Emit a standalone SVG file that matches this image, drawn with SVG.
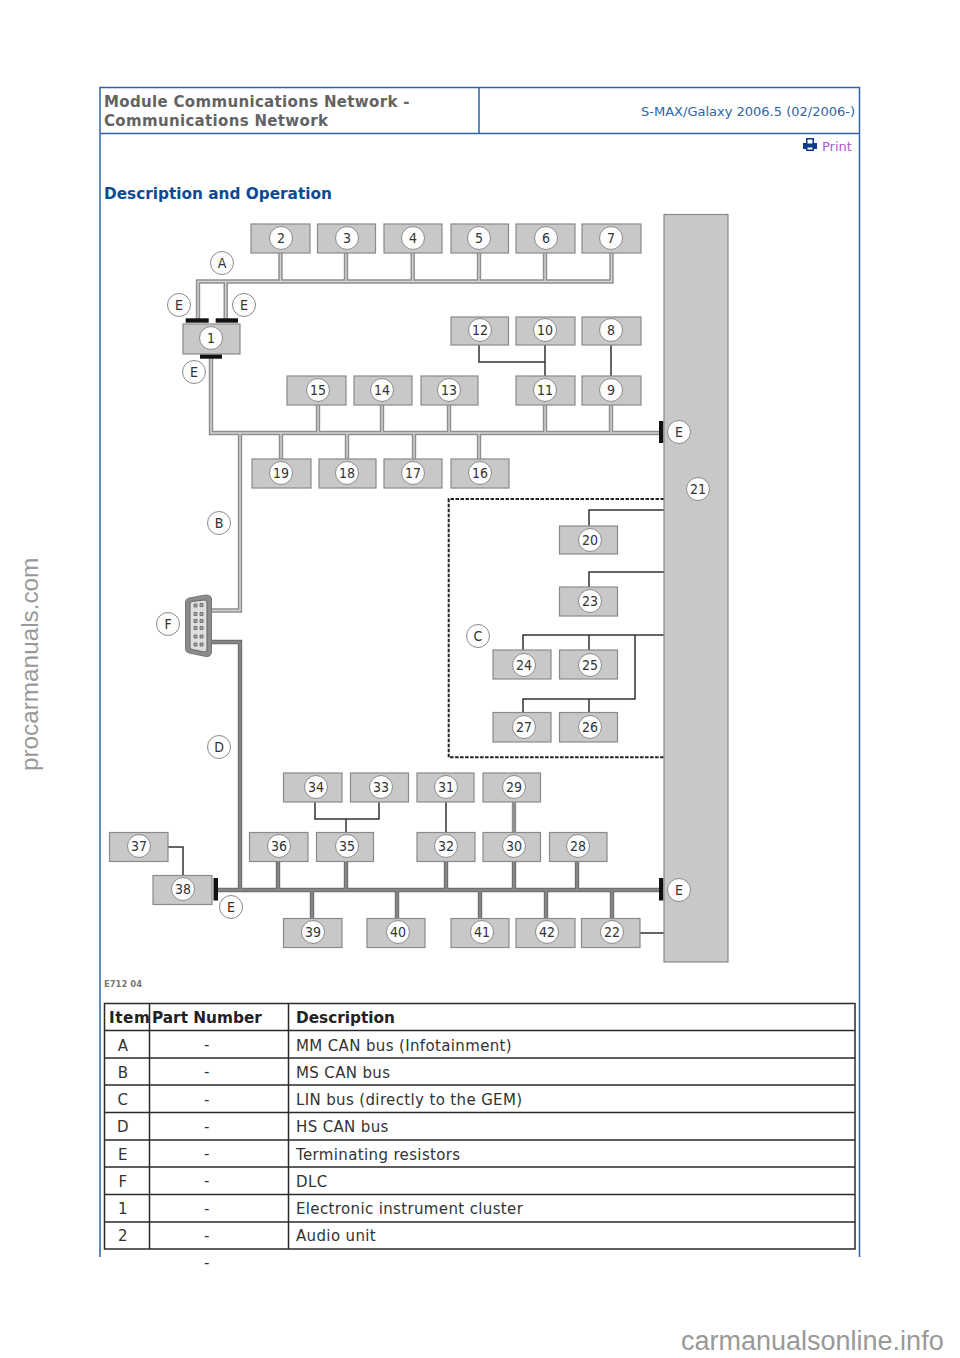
<svg xmlns="http://www.w3.org/2000/svg" width="960" height="1358" viewBox="0 0 960 1358">
<style>
text{font-family:"DejaVu Sans",Verdana,sans-serif}
.frame{fill:none;stroke:#2f65a8;stroke-width:1.5}
.box{fill:#c8c8c8;stroke:#8a8a8a;stroke-width:1.2}
.cir{fill:#fdfdfd;stroke:#8a8a8a;stroke-width:1}
.n{font-family:"DejaVu Sans Condensed","DejaVu Sans",sans-serif;font-size:14px;fill:#333;text-anchor:middle}
.wire{fill:none;stroke:#333;stroke-width:1.5}
.outer{fill:none;stroke:#8f8f8f;stroke-width:4.4}
.inner{fill:none;stroke:#d4d4d4;stroke-width:1.4}
.hs{fill:none;stroke:#707070;stroke-width:4.4}
.hsi{fill:none;stroke:#9a9a9a;stroke-width:1}
.term{fill:#111}
.title{font-size:15px;font-weight:bold;fill:#636363;letter-spacing:.33px}
.th{font-size:15.3px;font-weight:bold;fill:#222}
.td{font-size:15px;fill:#333;letter-spacing:.36px}
.c{text-anchor:middle}
.wm{font-family:"Liberation Sans",Arial,sans-serif;fill:#999}
</style>
<rect width="960" height="1358" fill="#fff"/>
<g id="page-frame">
<path class="frame" d="M100 1257V87.500H859.500V1257M100 133.500H859.500M479 87.500V133.500"/>
<text class="title" x="104" y="107">Module Communications Network -</text>
<text class="title" x="104" y="126">Communications Network</text>
<text x="855" y="116" text-anchor="end" style="font-size:13px;fill:#2f65a8">S-MAX/Galaxy 2006.5 (02/2006-)</text>
<path fill="#0d3a8a" d="M806 138h8v5h3v6h-3v2h-8v-2h-3v-6h3zm1.500 1.500v4h5v-4zm0 8v2h5v-2z"/>
<text x="822" y="151" style="font-size:13px;fill:#b455d0">Print</text>
<text x="104" y="199" style="font-size:15.3px;font-weight:bold;fill:#0b4a94">Description and Operation</text>
</g>
<g id="connectors">
<path class="outer" id="busA" d="M198 320V281.500H611.500V253M225.700 320V281.500M280.500 253V281.500M346 253V281.500M412.700 253V281.500M479 253V281.500M545 253V281.500"/>
<path class="inner" d="M198 320V281.500H611.500V253M225.700 320V281.500M280.500 253V281.500M346 253V281.500M412.700 253V281.500M479 253V281.500M545 253V281.500"/>
<path class="outer" id="busB" d="M211 356V433H660M240 433V610.500H212M318 405V433M382 405V433M449 405V433M545 405V433M611 405V433M281 433V459M347 433V459M414 433V459M479 433V459"/>
<path class="inner" d="M211 356V433H660M240 433V610.500H212M318 405V433M382 405V433M449 405V433M545 405V433M611 405V433M281 433V459M347 433V459M414 433V459M479 433V459"/>
<path class="hs" id="busD" d="M212 642H240V890M215 890H660M278 861V890M346 861V890M446 861V890M514 861V890M577 861V890M312 890V918M397 890V918M480 890V918M546 890V918M612 890V918"/>
<path class="hsi" d="M212 642H240V890M215 890H660M278 861V890M346 861V890M446 861V890M514 861V890M577 861V890M312 890V918M397 890V918M480 890V918M546 890V918M612 890V918"/>
<path class="outer" d="M514 802V832"/>
<path class="wire" d="M479 345V362H545M545 345V376M611 345V376M446 802V832M315 802V819H379V802M346 819V832M168 847H183V875M640 933H664"/>
<path class="wire" id="busC" d="M664 510H589V526M664 572H589V587M664 635H523V650M589 635V650M635 635V699H523V712M589 699V712"/>
<path fill="none" stroke="#222" stroke-width="2" stroke-dasharray="3.500 1.500" d="M664 499H448.700V757.300H664"/>
<rect class="term" x="185.700" y="318.300" width="23" height="4.400"/>
<rect class="term" x="215.700" y="318.300" width="22.300" height="4.400"/>
<rect class="term" x="200" y="354.300" width="22" height="4.400"/>
<rect class="term" x="659" y="421" width="4.400" height="22"/>
<rect class="term" x="659" y="878" width="4.400" height="22.500"/>
<rect class="term" x="213.500" y="878" width="4.500" height="22.500"/>
</g>
<g id="n21"><rect class="box" x="664" y="214.500" width="64" height="747.500"/><circle class="cir" cx="698" cy="489" r="11.500"/><text class="n" x="698" y="494">21</text></g>
<g id="n1"><rect class="box" x="183" y="324" width="57" height="30"/><circle class="cir" cx="211" cy="338" r="11.500"/><text class="n" x="211" y="343">1</text></g>
<g id="n2"><rect class="box" x="251" y="224" width="59" height="29"/><circle class="cir" cx="281" cy="238" r="11.500"/><text class="n" x="281" y="243">2</text></g>
<g id="n3"><rect class="box" x="317.500" y="224" width="58" height="29"/><circle class="cir" cx="347" cy="238" r="11.500"/><text class="n" x="347" y="243">3</text></g>
<g id="n4"><rect class="box" x="384" y="224" width="58" height="29"/><circle class="cir" cx="413" cy="238" r="11.500"/><text class="n" x="413" y="243">4</text></g>
<g id="n5"><rect class="box" x="451" y="224" width="57.500" height="29"/><circle class="cir" cx="479" cy="238" r="11.500"/><text class="n" x="479" y="243">5</text></g>
<g id="n6"><rect class="box" x="516" y="224" width="59" height="29"/><circle class="cir" cx="546" cy="238" r="11.500"/><text class="n" x="546" y="243">6</text></g>
<g id="n7"><rect class="box" x="582" y="224" width="59" height="29"/><circle class="cir" cx="611" cy="238" r="11.500"/><text class="n" x="611" y="243">7</text></g>
<g id="n12"><rect class="box" x="451" y="317" width="57.500" height="28"/><circle class="cir" cx="480" cy="330" r="11.500"/><text class="n" x="480" y="335">12</text></g>
<g id="n10"><rect class="box" x="516" y="317" width="59" height="28"/><circle class="cir" cx="545" cy="330" r="11.500"/><text class="n" x="545" y="335">10</text></g>
<g id="n8"><rect class="box" x="582" y="317" width="59" height="28"/><circle class="cir" cx="611" cy="330" r="11.500"/><text class="n" x="611" y="335">8</text></g>
<g id="n15"><rect class="box" x="287" y="376" width="59" height="29"/><circle class="cir" cx="318" cy="390" r="11.500"/><text class="n" x="318" y="395">15</text></g>
<g id="n14"><rect class="box" x="354" y="376" width="58" height="29"/><circle class="cir" cx="382" cy="390" r="11.500"/><text class="n" x="382" y="395">14</text></g>
<g id="n13"><rect class="box" x="421" y="376" width="57" height="29"/><circle class="cir" cx="449" cy="390" r="11.500"/><text class="n" x="449" y="395">13</text></g>
<g id="n11"><rect class="box" x="516" y="376" width="59" height="29"/><circle class="cir" cx="545" cy="390" r="11.500"/><text class="n" x="545" y="395">11</text></g>
<g id="n9"><rect class="box" x="582" y="376" width="59" height="29"/><circle class="cir" cx="611" cy="390" r="11.500"/><text class="n" x="611" y="395">9</text></g>
<g id="n19"><rect class="box" x="252" y="459" width="59" height="29"/><circle class="cir" cx="281" cy="473" r="11.500"/><text class="n" x="281" y="478">19</text></g>
<g id="n18"><rect class="box" x="319" y="459" width="57" height="29"/><circle class="cir" cx="347" cy="473" r="11.500"/><text class="n" x="347" y="478">18</text></g>
<g id="n17"><rect class="box" x="384" y="459" width="58" height="29"/><circle class="cir" cx="413" cy="473" r="11.500"/><text class="n" x="413" y="478">17</text></g>
<g id="n16"><rect class="box" x="451" y="459" width="58" height="29"/><circle class="cir" cx="480" cy="473" r="11.500"/><text class="n" x="480" y="478">16</text></g>
<g id="n20"><rect class="box" x="559.500" y="526" width="58" height="28"/><circle class="cir" cx="590" cy="540" r="11.500"/><text class="n" x="590" y="545">20</text></g>
<g id="n23"><rect class="box" x="559.500" y="587" width="58" height="29"/><circle class="cir" cx="590" cy="601" r="11.500"/><text class="n" x="590" y="606">23</text></g>
<g id="n24"><rect class="box" x="493" y="650" width="58" height="29"/><circle class="cir" cx="524" cy="665" r="11.500"/><text class="n" x="524" y="670">24</text></g>
<g id="n25"><rect class="box" x="559.500" y="650" width="58" height="29"/><circle class="cir" cx="590" cy="665" r="11.500"/><text class="n" x="590" y="670">25</text></g>
<g id="n27"><rect class="box" x="493" y="712.500" width="58" height="29.500"/><circle class="cir" cx="524" cy="727" r="11.500"/><text class="n" x="524" y="732">27</text></g>
<g id="n26"><rect class="box" x="559.500" y="712.500" width="58" height="29.500"/><circle class="cir" cx="590" cy="727" r="11.500"/><text class="n" x="590" y="732">26</text></g>
<g id="n34"><rect class="box" x="283.500" y="773" width="58.500" height="29"/><circle class="cir" cx="316" cy="787" r="11.500"/><text class="n" x="316" y="792">34</text></g>
<g id="n33"><rect class="box" x="350.500" y="773" width="58" height="29"/><circle class="cir" cx="381" cy="787" r="11.500"/><text class="n" x="381" y="792">33</text></g>
<g id="n31"><rect class="box" x="417" y="773" width="57" height="29"/><circle class="cir" cx="446" cy="787" r="11.500"/><text class="n" x="446" y="792">31</text></g>
<g id="n29"><rect class="box" x="483" y="773" width="57.500" height="29"/><circle class="cir" cx="514" cy="787" r="11.500"/><text class="n" x="514" y="792">29</text></g>
<g id="n36"><rect class="box" x="249.500" y="832.500" width="58.500" height="29"/><circle class="cir" cx="279" cy="846" r="11.500"/><text class="n" x="279" y="851">36</text></g>
<g id="n35"><rect class="box" x="316.500" y="832.500" width="57" height="29"/><circle class="cir" cx="347" cy="846" r="11.500"/><text class="n" x="347" y="851">35</text></g>
<g id="n32"><rect class="box" x="417" y="832.500" width="58" height="29"/><circle class="cir" cx="446" cy="846" r="11.500"/><text class="n" x="446" y="851">32</text></g>
<g id="n30"><rect class="box" x="483" y="832.500" width="57.500" height="29"/><circle class="cir" cx="514" cy="846" r="11.500"/><text class="n" x="514" y="851">30</text></g>
<g id="n28"><rect class="box" x="549.500" y="832.500" width="57.500" height="29"/><circle class="cir" cx="578" cy="846" r="11.500"/><text class="n" x="578" y="851">28</text></g>
<g id="n37"><rect class="box" x="109.500" y="832.500" width="58.500" height="29"/><circle class="cir" cx="139" cy="846" r="11.500"/><text class="n" x="139" y="851">37</text></g>
<g id="n38"><rect class="box" x="153" y="875.500" width="59" height="29"/><circle class="cir" cx="183" cy="889" r="11.500"/><text class="n" x="183" y="894">38</text></g>
<g id="n39"><rect class="box" x="283.500" y="918.500" width="58.500" height="29"/><circle class="cir" cx="313" cy="932" r="11.500"/><text class="n" x="313" y="937">39</text></g>
<g id="n40"><rect class="box" x="367" y="918.500" width="58" height="29"/><circle class="cir" cx="398" cy="932" r="11.500"/><text class="n" x="398" y="937">40</text></g>
<g id="n41"><rect class="box" x="451" y="918.500" width="58" height="29"/><circle class="cir" cx="482" cy="932" r="11.500"/><text class="n" x="482" y="937">41</text></g>
<g id="n42"><rect class="box" x="516" y="918.500" width="59" height="29"/><circle class="cir" cx="547" cy="932" r="11.500"/><text class="n" x="547" y="937">42</text></g>
<g id="n22"><rect class="box" x="581.500" y="918.500" width="58.500" height="29"/><circle class="cir" cx="612" cy="932" r="11.500"/><text class="n" x="612" y="937">22</text></g>
<g id="dlc">
<path d="M185.500 602Q185.500 599 189 598L206 595Q211 595 211.500 599V652Q211 657 206 656.500L189 653Q185.500 652 185.500 649Z" fill="#8c8c8c" stroke="#777" stroke-width="1"/>
<path d="M190 604Q190 602 192 601.500L204 600Q207 600 207 602V650Q207 652 204 652L192 649.500Q190 649 190 647Z" fill="#ddd" stroke="#666" stroke-width="1"/>
<path d="M194 604h3v3h-3zM200 603.500h3v3h-3zM194 612.500h3v3h-3zM200 612.500h3v3h-3zM194 619.500h3v3h-3zM200 619.500h3v3h-3zM194 626.500h3v3h-3zM200 626.500h3v3h-3zM194 635h3v3h-3zM200 635h3v3h-3zM194 643h3v3h-3zM200 643h3v3h-3z" fill="#aaa" stroke="#555" stroke-width=".7"/>
<circle class="cir" cx="168" cy="624" r="11.500"/><text class="n" x="168" y="629">F</text></g>
<g id="label-A"><circle class="cir" cx="222" cy="263" r="11.500"/><text class="n" x="222" y="268">A</text></g>
<g id="label-E1"><circle class="cir" cx="179" cy="305" r="11.500"/><text class="n" x="179" y="310">E</text></g>
<g id="label-E2"><circle class="cir" cx="244" cy="305" r="11.500"/><text class="n" x="244" y="310">E</text></g>
<g id="label-E3"><circle class="cir" cx="194" cy="372" r="11.500"/><text class="n" x="194" y="377">E</text></g>
<g id="label-E4"><circle class="cir" cx="679" cy="432" r="11.500"/><text class="n" x="679" y="437">E</text></g>
<g id="label-B"><circle class="cir" cx="219" cy="523" r="11.500"/><text class="n" x="219" y="528">B</text></g>
<g id="label-C"><circle class="cir" cx="478" cy="636" r="11.500"/><text class="n" x="478" y="641">C</text></g>
<g id="label-D"><circle class="cir" cx="219" cy="747" r="11.500"/><text class="n" x="219" y="752">D</text></g>
<g id="label-E5"><circle class="cir" cx="679" cy="890" r="11.500"/><text class="n" x="679" y="895">E</text></g>
<g id="label-E6"><circle class="cir" cx="231" cy="907" r="11.500"/><text class="n" x="231" y="912">E</text></g>
<text x="104" y="987" textLength="38" lengthAdjust="spacingAndGlyphs" style="font-size:9px;font-weight:bold;fill:#777">E712 04</text>
<g id="table">
<path fill="none" stroke="#2a2a2a" stroke-width="1.500" d="M104.500 1003.500H855V1249H104.500ZM149.500 1003.500V1249M288.500 1003.500V1249M104.500 1030.500H855M104.500 1058H855M104.500 1085H855M104.500 1112.500H855M104.500 1140H855M104.500 1167H855M104.500 1194.500H855M104.500 1222H855"/>
<text class="th" x="109" y="1023" textLength="41">Item</text><text class="th" x="152" y="1023">Part Number</text><text class="th" x="296" y="1023">Description</text>
<text class="td c" x="123" y="1051">A</text><text class="td c" x="207" y="1050">-</text><text class="td" x="296" y="1051">MM CAN bus (Infotainment)</text>
<text class="td c" x="123" y="1078">B</text><text class="td c" x="207" y="1077">-</text><text class="td" x="296" y="1078">MS CAN bus</text>
<text class="td c" x="123" y="1105">C</text><text class="td c" x="207" y="1105">-</text><text class="td" x="296" y="1105">LIN bus (directly to the GEM)</text>
<text class="td c" x="123" y="1132">D</text><text class="td c" x="207" y="1132">-</text><text class="td" x="296" y="1132">HS CAN bus</text>
<text class="td c" x="123" y="1160">E</text><text class="td c" x="207" y="1159">-</text><text class="td" x="296" y="1160">Terminating resistors</text>
<text class="td c" x="123" y="1187">F</text><text class="td c" x="207" y="1186">-</text><text class="td" x="296" y="1187">DLC</text>
<text class="td c" x="123" y="1214">1</text><text class="td c" x="207" y="1214">-</text><text class="td" x="296" y="1214">Electronic instrument cluster</text>
<text class="td c" x="123" y="1241">2</text><text class="td c" x="207" y="1241">-</text><text class="td" x="296" y="1241">Audio unit</text>
<text class="td c" x="207" y="1268">-</text>
</g>
<g id="watermarks">
<text class="wm" transform="translate(37.500 771) rotate(-90)" style="font-size:24.300px">procarmanuals.com</text>
<text class="wm" x="681" y="1350" style="font-size:27px">carmanualsonline.info</text>
</g>
</svg>
